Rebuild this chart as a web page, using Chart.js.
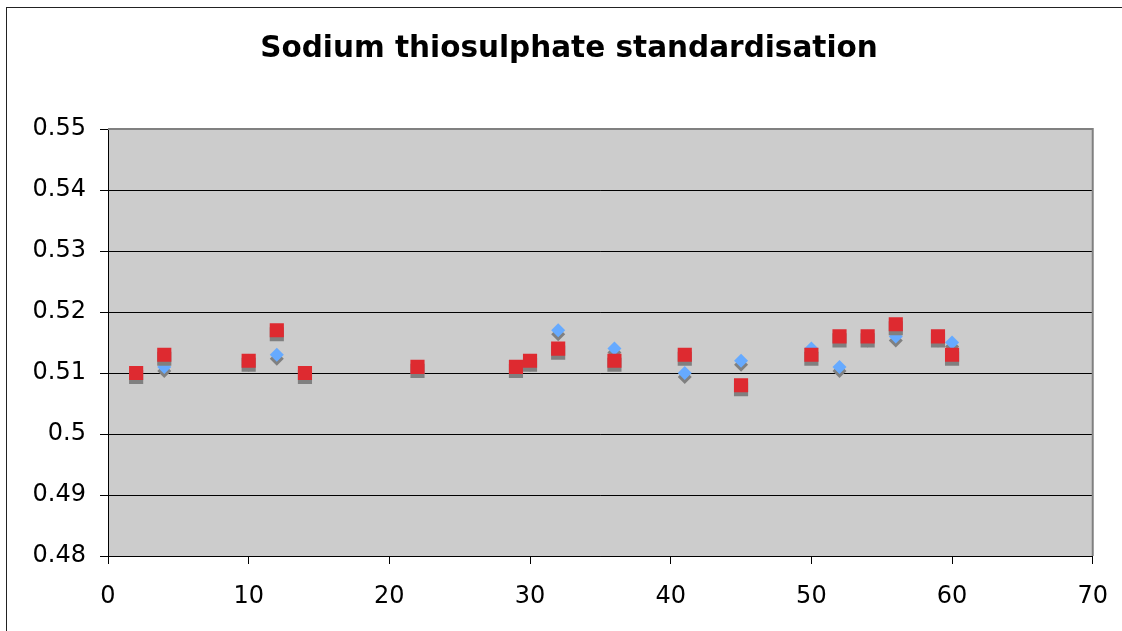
<!DOCTYPE html>
<html>
<head>
<meta charset="utf-8">
<script src="https://cdn.jsdelivr.net/npm/chart.js@4/dist/chart.umd.min.js"></script>
<style>
  html, body { margin: 0; padding: 0; background: #fff; }
  #wrap { width: 1122px; height: 631px; }
</style>
</head>
<body>
<div id="wrap"><canvas id="sodiumChart" width="1122" height="631"></canvas></div>
<script>
// sample numbers (x) and the two titration series
const samples = [2, 4, 10, 12, 14, 22, 29, 30, 32, 36, 41, 45, 50, 52, 54, 56, 59, 60];
const seriesBlue = [0.510, 0.511, 0.512, 0.513, 0.510, 0.511, 0.511, 0.512, 0.517, 0.514, 0.510, 0.512, 0.514, 0.511, 0.516, 0.516, 0.516, 0.515];
const seriesRed = [0.510, 0.513, 0.512, 0.517, 0.510, 0.511, 0.511, 0.512, 0.514, 0.512, 0.513, 0.508, 0.513, 0.516, 0.516, 0.518, 0.516, 0.513];
const yTickLabels = ['0.48', '0.49', '0.5', '0.51', '0.52', '0.53', '0.54', '0.55'];

const toPoints = (ys) => samples.map((x, i) => ({ x: x, y: ys[i] }));

// white page, outer chart border and grey plot area
const frame = {
    id: 'frame',
    beforeDraw(chart) {
        const c = chart.ctx, a = chart.chartArea;
        c.save();
        c.fillStyle = '#fff';
        c.fillRect(0, 0, chart.width, chart.height);
        c.strokeStyle = '#222';
        c.lineWidth = 1;
        c.strokeRect(6.5, 7.5, 1300, 800);
        c.fillStyle = '#cccccc';
        c.fillRect(a.left, a.top, a.right - a.left, a.bottom - a.top);
        c.restore();
    },
    afterDatasetsDraw(chart) {
        const c = chart.ctx, a = chart.chartArea;
        c.save();
        c.strokeStyle = '#808080';
        c.lineWidth = 2;
        c.beginPath();
        c.moveTo(a.left, a.top);
        c.lineTo(a.right, a.top);
        c.lineTo(a.right, a.bottom);
        c.stroke();
        c.restore();
    }
};

// Excel-like drop shadow under markers
const markerShadow = {
    id: 'markerShadow',
    beforeDatasetDraw(chart) {
        const c = chart.ctx;
        c.save();
        c.shadowColor = '#808080';
        c.shadowOffsetX = 0;
        c.shadowOffsetY = 4;
        c.shadowBlur = 0;
    },
    afterDatasetDraw(chart) {
        chart.ctx.restore();
    }
};

const ctx = document.getElementById('sodiumChart').getContext('2d');
const sodiumChart = new Chart(ctx, {
    type: 'scatter',
    data: {
        datasets: [{
            label: 'Series 1',
            data: toPoints(seriesBlue),
            pointStyle: 'rectRot',
            pointRadius: 7,
            backgroundColor: '#66aaff',
            borderWidth: 0,
            order: 1
        }, {
            label: 'Series 2',
            data: toPoints(seriesRed),
            pointStyle: 'rect',
            pointRadius: 10,
            backgroundColor: '#de2a30',
            borderWidth: 0,
            order: 0
        }]
    },
    options: {
        responsive: false,
        animation: false,
        layout: { padding: { left: 30, right: 14, top: 0, bottom: 0 } },
        plugins: {
            legend: { display: false },
            tooltip: { enabled: false },
            title: {
                display: true,
                text: 'Sodium thiosulphate standardisation',
                color: '#000',
                font: { family: 'DejaVu Sans', size: 29.5, weight: 'bold', lineHeight: 1.2 },
                padding: { top: 32, bottom: 61.6 }
            }
        },
        scales: {
            x: {
                type: 'linear',
                min: 0,
                max: 70,
                ticks: {
                    stepSize: 10,
                    color: '#000',
                    padding: 14,
                    font: { family: 'DejaVu Sans', size: 24, lineHeight: 1.55 }
                },
                grid: { drawOnChartArea: false, tickLength: 8, tickColor: '#000' },
                border: { color: '#000', width: 1 },
                afterFit(scale) { scale.height = 75; }
            },
            y: {
                min: 0.48,
                max: 0.55,
                ticks: {
                    stepSize: 0.01,
                    color: '#000',
                    padding: 14,
                    font: { family: 'DejaVu Sans', size: 24 },
                    callback: (v, i) => yTickLabels[i]
                },
                grid: {
                    color: (c) => c.index === yTickLabels.length - 1 ? 'transparent' : '#000',
                    tickColor: '#000',
                    tickLength: 8,
                    lineWidth: 1
                },
                border: { color: '#000', width: 1 },
                afterFit(scale) { scale.width = 78; }
            }
        }
    },
    plugins: [frame, markerShadow]
});
</script>
</body>
</html>
